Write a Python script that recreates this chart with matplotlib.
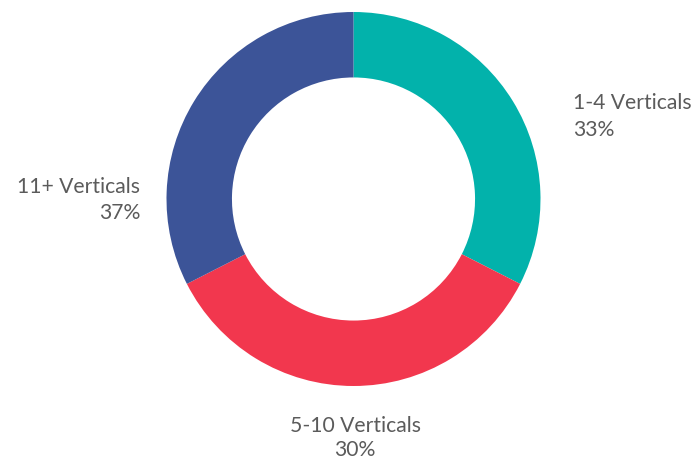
import matplotlib
matplotlib.use('Agg')
import matplotlib.pyplot as plt

# datos (tamanio de cada porcion y etiquetas)
categorias = ['1-4 Verticals', '5-10 Verticals', '11+ Verticals']
tamanios = [32.5, 35.0, 32.5]
porcentajes = ['33%', '30%', '37%']
colores = ['#02B2AB', '#F2374E', '#3C5498']

plt.rcParams['font.family'] = ['Lato', 'DejaVu Sans']

fig = plt.figure(figsize=(6.94, 4.61), dpi=100)
cx, cy, r = 353.5, 199, 187  # centro y radio en pixeles
ax = fig.add_axes([(cx - r) / 694, (461 - cy - r) / 461, 2 * r / 694, 2 * r / 461])
ax.pie(tamanios, colors=colores, startangle=90, counterclock=False, radius=1,
       wedgeprops=dict(width=0.35, linewidth=0))
ax.set_xlim(-1, 1)
ax.set_ylim(-1, 1)
ax.axis('off')

def px(x, y):
    return (x - cx) / r, (cy - y) / r

gris = '#5b5b5b'
posiciones = [(573, 'left'), (355, 'center'), (140, 'right')]
filas = [(103, 130), (426, 450), (187, 213)]
for cat, pct, (x, ha), (y1, y2) in zip(categorias, porcentajes, posiciones, filas):
    ax.text(*px(x, y1), cat, ha=ha, va='center', fontsize=15.2, color=gris, clip_on=False)
    ax.text(*px(x, y2), pct, ha=ha, va='center', fontsize=15.2, color=gris, clip_on=False)

fig.savefig('out.png', dpi=100)
